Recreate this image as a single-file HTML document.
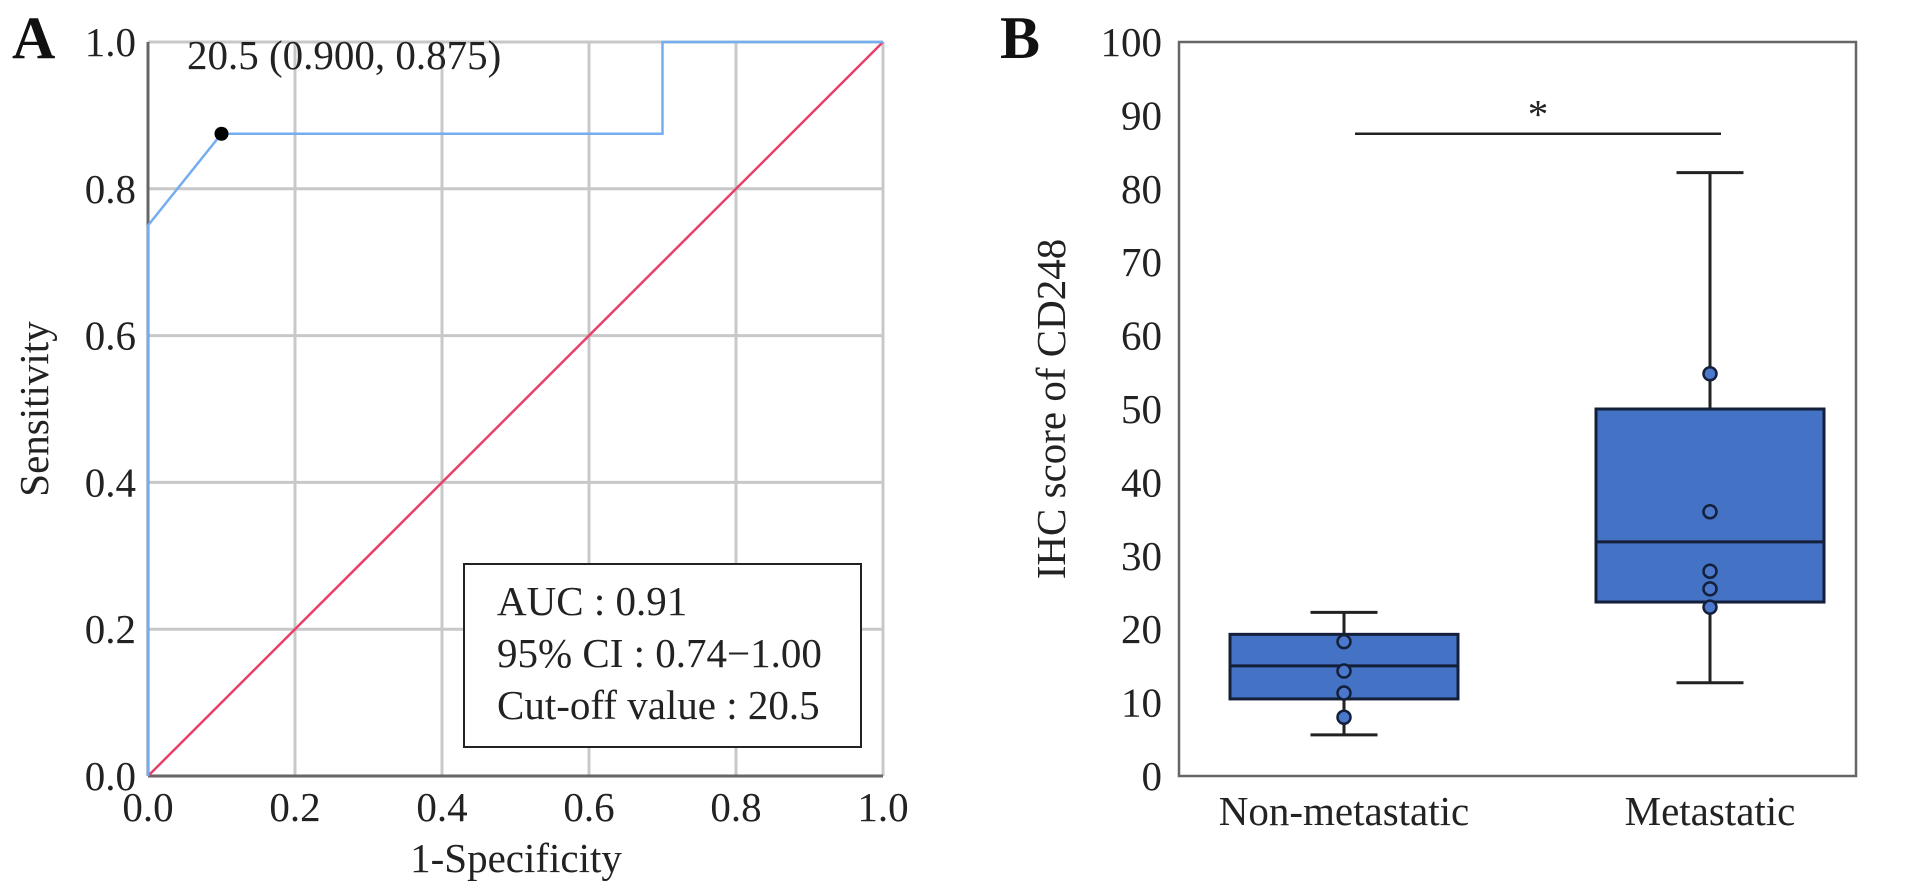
<!DOCTYPE html>
<html><head><meta charset="utf-8"><style>
body{margin:0;background:#fff;}
svg{display:block;font-family:"Liberation Serif",serif;}
</style></head><body>
<svg id="fig" width="1913" height="893" viewBox="0 0 1913 893"></svg>
<script>
// Panel A data
const rocX = [0, 0, 0.1, 0.7, 0.7, 1];
const rocY = [0, 0.75, 0.875, 0.875, 1, 1];
const cutX = [0.1];
const cutY = [0.875];
const aTicks = [0, 0.2, 0.4, 0.6, 0.8, 1.0];
const aTickLabels = ["0.0","0.2","0.4","0.6","0.8","1.0"];
// Panel B data
const groups = ["Non-metastatic","Metastatic"];
const whiskLo = [5.6, 12.7];
const q1 = [10.5, 23.7];
const med = [15, 31.9];
const q3 = [19.3, 50];
const whiskHi = [22.3, 82.2];
const pts0 = [18.3, 14.3, 11.3, 8];
const pts1 = [54.8, 36, 27.9, 25.5, 23];
const bTicks = [0,10,20,30,40,50,60,70,80,90,100];

const FS=41;
const NS="http://www.w3.org/2000/svg";
const svg=document.getElementById('fig');
function mk(tag,attrs,parent,txt){const e=document.createElementNS(NS,tag);for(const k in attrs)e.setAttribute(k,attrs[k]);if(txt!==undefined)e.textContent=txt;(parent||svg).appendChild(e);return e;}

// ---- Panel A ----
const ax0=148,ax1=883,ayT=42,ayB=776;
const xA=v=>ax0+v*(ax1-ax0), yA=v=>ayB-v*(ayB-ayT);
const gA=mk('g',{});


aTicks.forEach((t,i)=>{
  const gx=mk('line',{x1:xA(t),x2:xA(t),y1:ayT,y2:ayB,stroke:'#c8c8c8','stroke-width':3},gA);
  
  
  const gy=mk('line',{x1:ax0,x2:ax1,y1:yA(t),y2:yA(t),stroke:'#c8c8c8','stroke-width':3},gA);
  
  
  const xl=mk('text',{x:xA(t),y:821,'font-size':FS,'text-anchor':'middle',fill:'#222'},gA,aTickLabels[i]);
  
  
  const yl=mk('text',{x:136,y:yA(t)+14,'font-size':FS,'text-anchor':'end',fill:'#222'},gA,aTickLabels[i]);
  
  
});
const axl=mk('line',{x1:ax0,x2:ax0,y1:ayT,y2:ayB,stroke:'#666','stroke-width':3},gA);


const axb=mk('line',{x1:ax0,x2:ax1,y1:ayB,y2:ayB,stroke:'#666','stroke-width':3},gA);


const diag=mk('line',{x1:xA(0),y1:yA(0),x2:xA(1),y2:yA(1),stroke:'#e8406a','stroke-width':2.5},gA);


const roc=mk('polyline',{points:rocX.map((x,i)=>xA(x)+','+yA(rocY[i])).join(' '),fill:'none',stroke:'#74aef0','stroke-width':2.5},gA);


const dot=mk('circle',{cx:xA(cutX[0]),cy:yA(cutY[0]),r:7,fill:'#000'},gA);


const ann=mk('text',{x:187,y:69,'font-size':FS,fill:'#222'},gA,'20.5 (0.900, 0.875)');


const box=mk('rect',{x:464,y:564,width:397,height:183,fill:'#fff',stroke:'#222','stroke-width':2},gA);


['AUC : 0.91','95% CI : 0.74\u22121.00','Cut-off value : 20.5'].forEach((s,i)=>{
  const t=mk('text',{x:497,y:615+i*52,'font-size':FS,fill:'#222'},gA,s);
  
  
});
const ytA=mk('text',{x:0,y:0,'font-size':FS,'text-anchor':'middle',fill:'#222',transform:'translate(48,409) rotate(-90)'},gA,'Sensitivity');


const xtA=mk('text',{x:516,y:872,'font-size':FS,'text-anchor':'middle',fill:'#222'},gA,'1-Specificity');


const lA=mk('text',{x:12,y:58,'font-size':60,'font-weight':'bold',fill:'#111'},gA,'A');



// ---- Panel B ----
const bx0=1179,bx1=1856,byT=42,byB=776;
const yB=v=>byB-v*(byB-byT)/100;
const centers=[1344,1710];
const bw=228,cw=67;
const gB=mk('g',{});


const frame=mk('rect',{x:bx0,y:byT,width:bx1-bx0,height:byB-byT,fill:'none',stroke:'#666','stroke-width':2.5},gB);


bTicks.forEach(t=>{
  const yl=mk('text',{x:1162,y:yB(t)+14,'font-size':FS,'text-anchor':'end',fill:'#222'},gB,String(t));
  
  
});
const ptsAll=[pts0,pts1];
groups.forEach((g,i)=>{
  const c=centers[i];
  const wl=mk('line',{x1:c,x2:c,y1:yB(whiskLo[i]),y2:yB(whiskHi[i]),stroke:'#222','stroke-width':3},gB);
  
  
  [whiskLo[i],whiskHi[i]].forEach(v=>{
    const cap=mk('line',{x1:c-cw/2,x2:c+cw/2,y1:yB(v),y2:yB(v),stroke:'#222','stroke-width':3},gB);
    
    
  });
  const r=mk('rect',{x:c-bw/2,y:yB(q3[i]),width:bw,height:yB(q1[i])-yB(q3[i]),fill:'#4472c4',stroke:'#14203a','stroke-width':3},gB);
  
  
  const m=mk('line',{x1:c-bw/2,x2:c+bw/2,y1:yB(med[i]),y2:yB(med[i]),stroke:'#14203a','stroke-width':3},gB);
  
  
  ptsAll[i].forEach(v=>{
    const p=mk('circle',{cx:c,cy:yB(v),r:6.5,fill:'#4a78cc',stroke:'#14203a','stroke-width':2.5},gB);
    
    
  });
  const xl=mk('text',{x:c,y:825,'font-size':FS,'text-anchor':'middle',fill:'#222'},gB,g);
  
  
});
const sig=mk('line',{x1:1355,x2:1721,y1:yB(87.5),y2:yB(87.5),stroke:'#222','stroke-width':2.5},gB);


const star=mk('text',{x:1538,y:yB(87.5)-6,'font-size':FS,'text-anchor':'middle',fill:'#222'},gB,'*');


const ytB=mk('text',{x:0,y:0,'font-size':FS,'text-anchor':'middle',fill:'#222',transform:'translate(1065,409) rotate(-90)'},gB,'IHC score of CD248');


const lB=mk('text',{x:1000,y:58,'font-size':60,'font-weight':'bold',fill:'#111'},gB,'B');


</script>
</body></html>
